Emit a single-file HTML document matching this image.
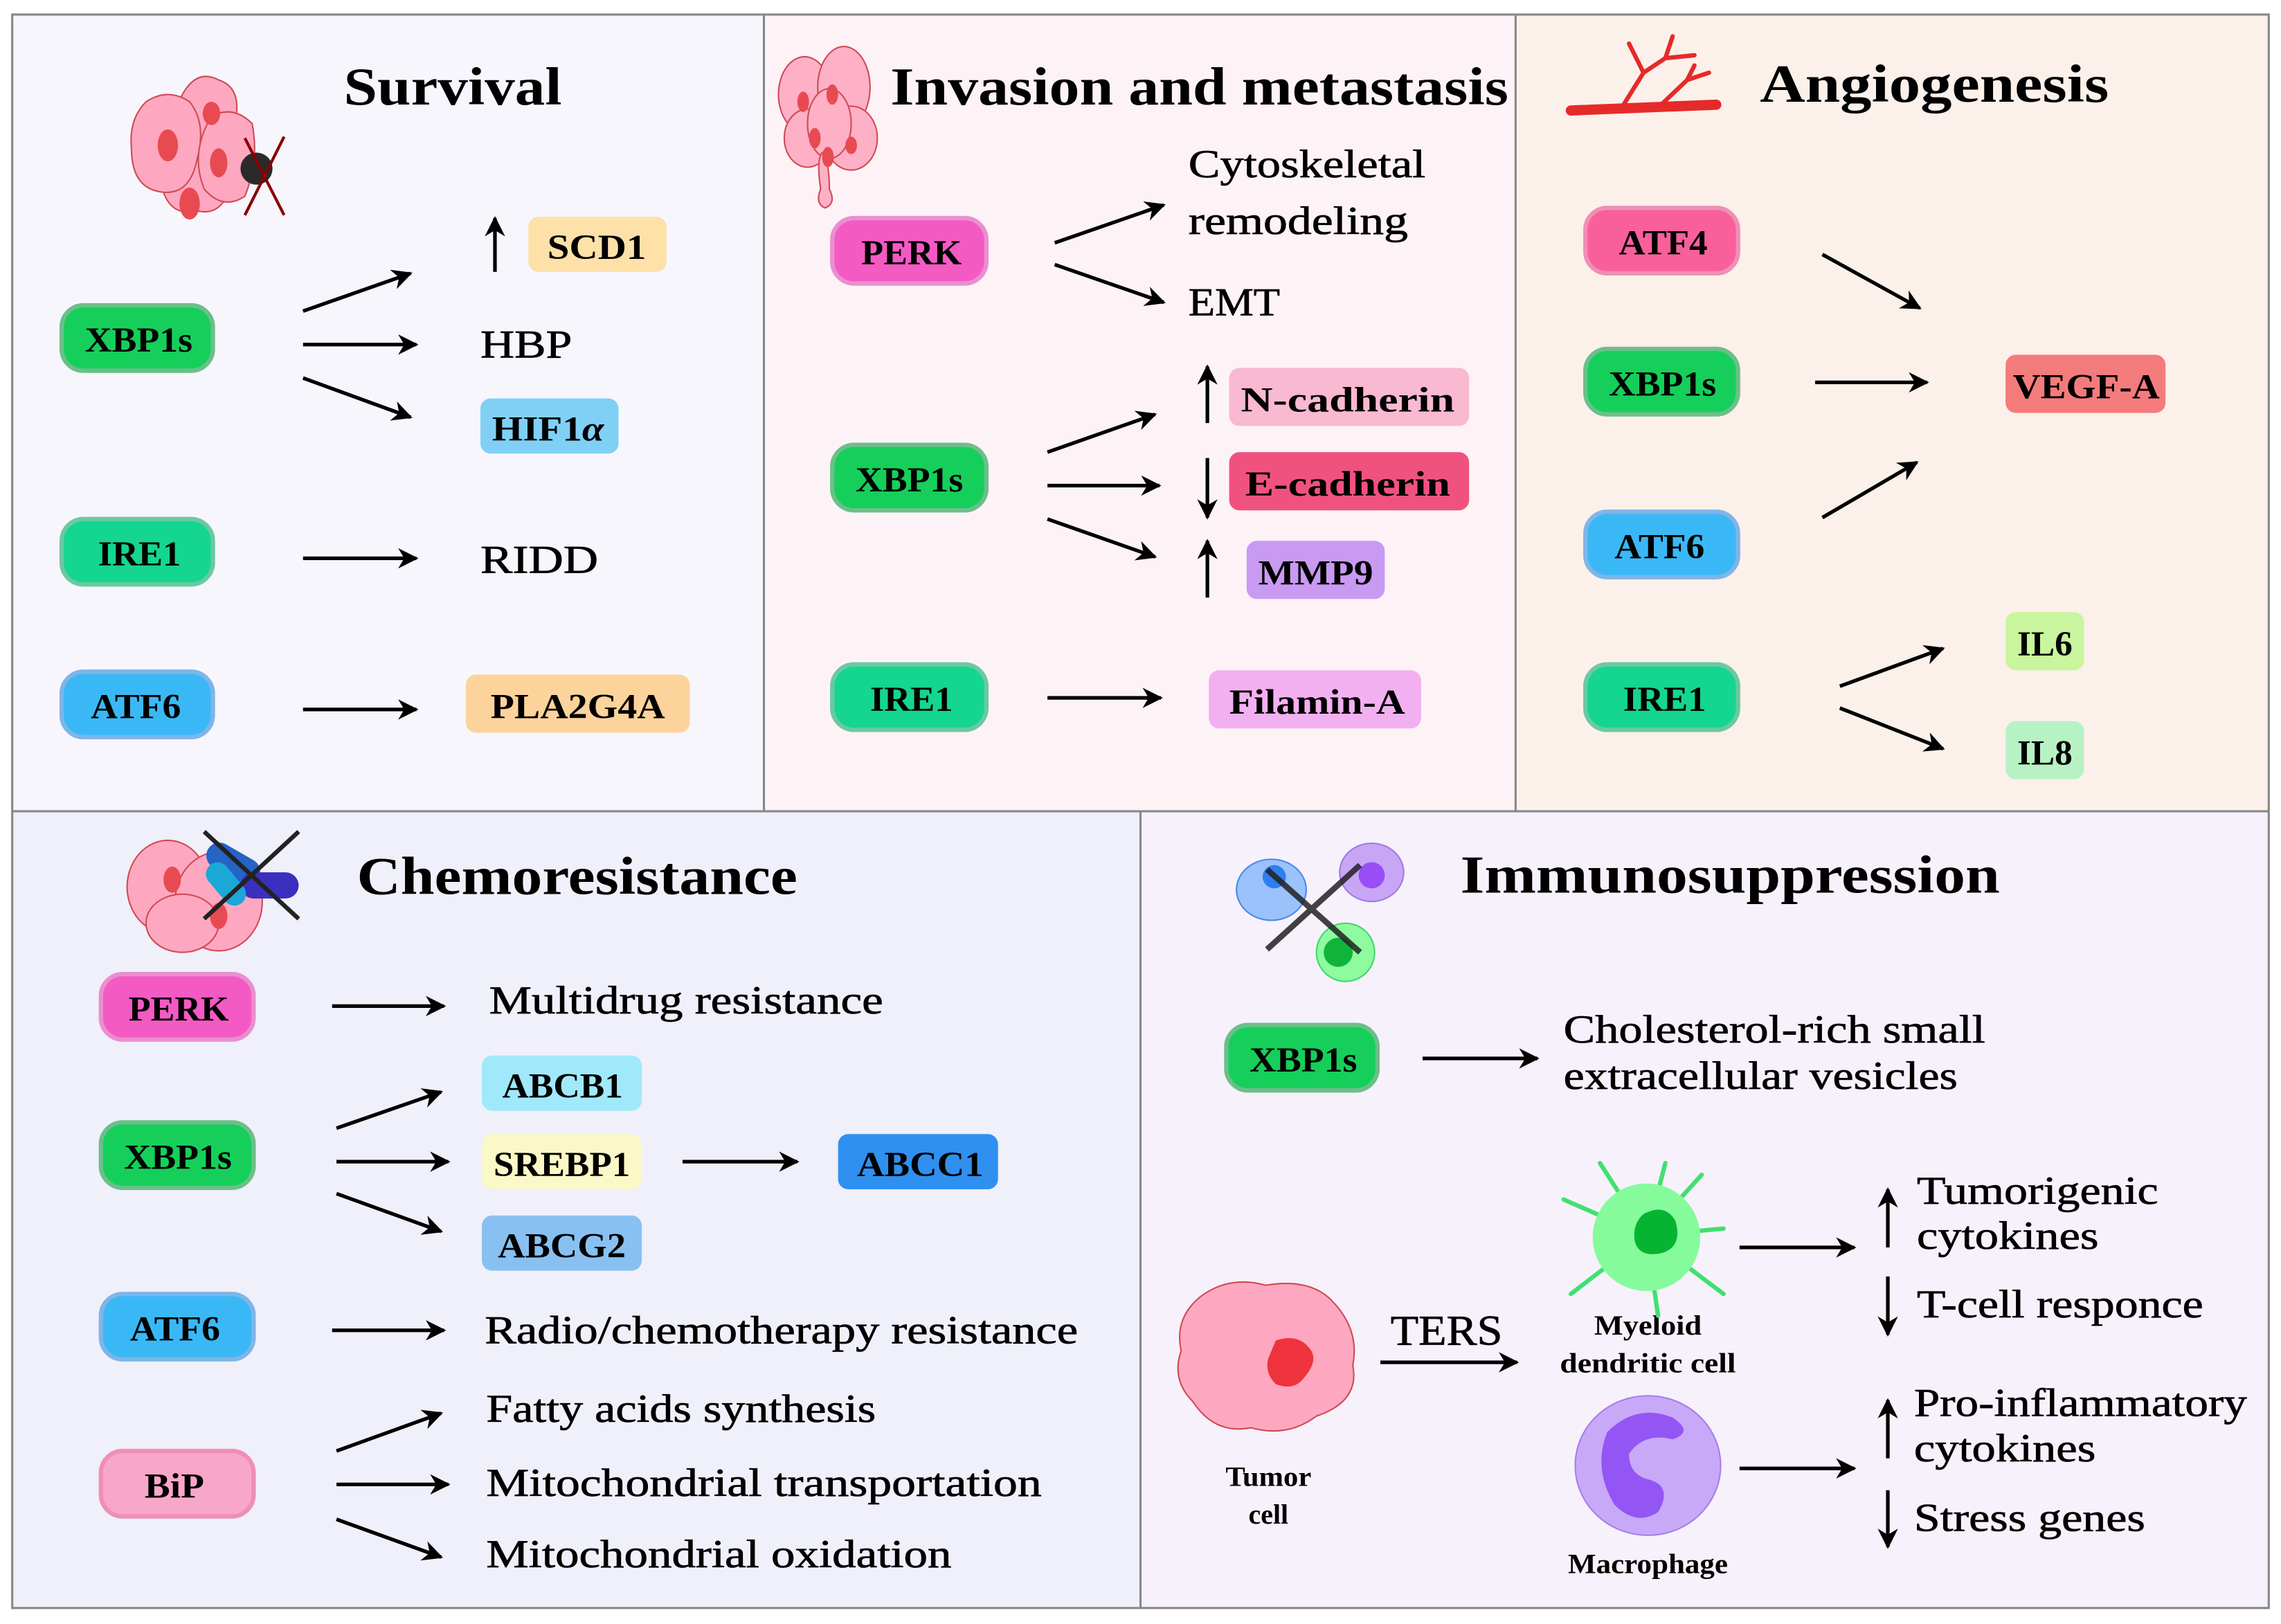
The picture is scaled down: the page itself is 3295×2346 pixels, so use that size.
<!DOCTYPE html>
<html><head><meta charset="utf-8"><style>
html,body{margin:0;padding:0;background:#fff}
svg{display:block}
text{font-family:"Liberation Serif",serif;fill:#000}
.t{font-size:37px;font-weight:bold}
.l{font-size:27px;stroke:#000;stroke-width:0.35}
.p{font-size:24px;font-weight:bold}
.s{font-size:19px;font-weight:bold}
</style></head><body>
<svg width="3295" height="2346" viewBox="0 0 1568 1117" xmlns="http://www.w3.org/2000/svg">
<defs>
<marker id="b" viewBox="0 0 10 10" refX="9" refY="5" markerWidth="14" markerHeight="14" orient="auto" markerUnits="userSpaceOnUse"><path d="M0,0 L10,5 L0,10 L3,5 z" fill="#000"/></marker>
</defs>
<rect x="8" y="10" width="517" height="548" fill="#f8f6fd"/>
<rect x="525" y="10" width="517" height="548" fill="#fdf3f7"/>
<rect x="1042" y="10" width="518" height="548" fill="#fcf0ea"/>
<rect x="8" y="558" width="776" height="548" fill="#eff0fa"/>
<rect x="784" y="558" width="776" height="548" fill="#f7f1fc"/>
<g stroke="#888" stroke-width="1.5" fill="none">
<rect x="8" y="10" width="1552" height="1096"/>
<line x1="8" y1="558" x2="1560" y2="558"/>
<line x1="525" y1="10" x2="525" y2="558"/>
<line x1="1042" y1="10" x2="1042" y2="558"/>
<line x1="784" y1="558" x2="784" y2="1106"/>
</g>
<g stroke="#000" stroke-width="2.5" fill="none" marker-end="url(#b)">
<line x1="208" y1="214" x2="282" y2="188"/><line x1="208" y1="237" x2="286" y2="237"/><line x1="208" y1="260" x2="282" y2="287"/>
<line x1="340" y1="187" x2="340" y2="150"/>
<line x1="208" y1="384" x2="286" y2="384"/><line x1="208" y1="488" x2="286" y2="488"/>
<line x1="725" y1="167" x2="800" y2="141"/><line x1="725" y1="182" x2="800" y2="208"/>
<line x1="720" y1="311" x2="794" y2="285"/><line x1="720" y1="334" x2="797" y2="334"/><line x1="720" y1="357" x2="794" y2="383"/>
<line x1="830" y1="291" x2="830" y2="252"/><line x1="830" y1="315" x2="830" y2="356"/><line x1="830" y1="411" x2="830" y2="372"/>
<line x1="720" y1="480" x2="798" y2="480"/>
<line x1="1253" y1="175" x2="1320" y2="212"/><line x1="1248" y1="263" x2="1325" y2="263"/><line x1="1253" y1="356" x2="1318" y2="318"/>
<line x1="1265" y1="472" x2="1336" y2="446"/><line x1="1265" y1="487" x2="1336" y2="515"/>
<line x1="228" y1="692" x2="305" y2="692"/>
<line x1="231" y1="776" x2="303" y2="751"/><line x1="231" y1="799" x2="308" y2="799"/><line x1="231" y1="821" x2="303" y2="847"/>
<line x1="469" y1="799" x2="548" y2="799"/>
<line x1="228" y1="915" x2="305" y2="915"/>
<line x1="231" y1="998" x2="303" y2="972"/><line x1="231" y1="1021" x2="308" y2="1021"/><line x1="231" y1="1045" x2="303" y2="1071"/>
<line x1="978" y1="728" x2="1057" y2="728"/>
<line x1="949" y1="937" x2="1043" y2="937"/>
<line x1="1196" y1="858" x2="1275" y2="858"/><line x1="1196" y1="1010" x2="1275" y2="1010"/>
<line x1="1298" y1="858" x2="1298" y2="818"/><line x1="1298" y1="878" x2="1298" y2="918"/>
<line x1="1298" y1="1003" x2="1298" y2="963"/><line x1="1298" y1="1025" x2="1298" y2="1064"/>
</g>

<g stroke-width="3">
<rect x="42" y="210" width="104" height="45" rx="15" fill="#15cf5a" stroke="#6bbf8a"/>
<rect x="42" y="357" width="104" height="45" rx="15" fill="#14d690" stroke="#6bc9a2"/>
<rect x="42" y="462" width="104" height="45" rx="15" fill="#3ab8f6" stroke="#7fb5e8"/>
<rect x="572" y="150" width="106" height="45" rx="15" fill="#f45ac4" stroke="#e98fd0"/>
<rect x="572" y="306" width="106" height="45" rx="15" fill="#15cf5a" stroke="#6bbf8a"/>
<rect x="572" y="457" width="106" height="45" rx="15" fill="#14d690" stroke="#6bc9a2"/>
<rect x="1090" y="143" width="105" height="45" rx="15" fill="#f85f9b" stroke="#ef8fb5"/>
<rect x="1090" y="240" width="105" height="45" rx="15" fill="#15cf5a" stroke="#6bbf8a"/>
<rect x="1090" y="352" width="105" height="45" rx="15" fill="#3ab8f6" stroke="#7fb5e8"/>
<rect x="1090" y="457" width="105" height="45" rx="15" fill="#14d690" stroke="#6bc9a2"/>
<rect x="69" y="670" width="105" height="45" rx="15" fill="#f45ac4" stroke="#e98fd0"/>
<rect x="69" y="772" width="105" height="45" rx="15" fill="#15cf5a" stroke="#6bbf8a"/>
<rect x="69" y="890" width="105" height="45" rx="15" fill="#3ab8f6" stroke="#7fb5e8"/>
<rect x="69" y="998" width="105" height="45" rx="15" fill="#f9a7c8" stroke="#ef8fb5"/>
<rect x="843" y="705" width="104" height="45" rx="15" fill="#15cf5a" stroke="#6bbf8a"/>
</g>
<rect x="363" y="149" width="95" height="38" rx="7" fill="#fde1a8"/>
<rect x="330" y="274" width="95" height="38" rx="7" fill="#80d0f6"/>
<rect x="320" y="464" width="154" height="40" rx="7" fill="#fdd39c"/>
<rect x="845" y="253" width="165" height="40" rx="7" fill="#f9b9d1"/>
<rect x="845" y="311" width="165" height="40" rx="7" fill="#f0527f"/>
<rect x="857" y="372" width="95" height="40" rx="7" fill="#c99af2"/>
<rect x="831" y="461" width="146" height="40" rx="7" fill="#f3b0f1"/>
<rect x="1379" y="244" width="110" height="40" rx="7" fill="#f47b7b"/>
<rect x="1379" y="421" width="54" height="40" rx="7" fill="#c9f59e"/>
<rect x="1379" y="496" width="54" height="40" rx="7" fill="#b7f2c5"/>
<rect x="331" y="726" width="110" height="38" rx="7" fill="#a0e9fb"/>
<rect x="331" y="780" width="110" height="38" rx="7" fill="#fbf8c8"/>
<rect x="576" y="780" width="110" height="38" rx="7" fill="#2f90f0"/>
<rect x="331" y="836" width="110" height="38" rx="7" fill="#88c1f1"/>

<g lengthAdjust="spacingAndGlyphs">
<text x="58" y="242" class="p" textLength="74" lengthAdjust="spacingAndGlyphs">XBP1s</text>
<text x="67" y="389" class="p" textLength="57" lengthAdjust="spacingAndGlyphs">IRE1</text>
<text x="62" y="494" class="p" textLength="62" lengthAdjust="spacingAndGlyphs">ATF6</text>
<text x="592" y="182" class="p" textLength="69" lengthAdjust="spacingAndGlyphs">PERK</text>
<text x="588" y="338" class="p" textLength="74" lengthAdjust="spacingAndGlyphs">XBP1s</text>
<text x="598" y="489" class="p" textLength="57" lengthAdjust="spacingAndGlyphs">IRE1</text>
<text x="1113" y="175" class="p" textLength="61" lengthAdjust="spacingAndGlyphs">ATF4</text>
<text x="1106" y="272" class="p" textLength="74" lengthAdjust="spacingAndGlyphs">XBP1s</text>
<text x="1110" y="384" class="p" textLength="62" lengthAdjust="spacingAndGlyphs">ATF6</text>
<text x="1116" y="489" class="p" textLength="57" lengthAdjust="spacingAndGlyphs">IRE1</text>
<text x="88" y="702" class="p" textLength="69" lengthAdjust="spacingAndGlyphs">PERK</text>
<text x="85" y="804" class="p" textLength="74" lengthAdjust="spacingAndGlyphs">XBP1s</text>
<text x="89" y="922" class="p" textLength="62" lengthAdjust="spacingAndGlyphs">ATF6</text>
<text x="99" y="1030" class="p" textLength="41" lengthAdjust="spacingAndGlyphs">BiP</text>
<text x="859" y="737" class="p" textLength="74" lengthAdjust="spacingAndGlyphs">XBP1s</text>
<text x="376" y="178" class="p" textLength="68" lengthAdjust="spacingAndGlyphs">SCD1</text>
<text x="338" y="303" class="p" textLength="77" lengthAdjust="spacingAndGlyphs">HIF1<tspan font-style="italic">α</tspan></text>
<text x="337" y="494" class="p" textLength="120" lengthAdjust="spacingAndGlyphs">PLA2G4A</text>
<text x="853" y="283" class="p" textLength="147" lengthAdjust="spacingAndGlyphs">N-cadherin</text>
<text x="856" y="341" class="p" textLength="141" lengthAdjust="spacingAndGlyphs">E-cadherin</text>
<text x="865" y="402" class="p" textLength="79" lengthAdjust="spacingAndGlyphs">MMP9</text>
<text x="845" y="491" class="p" textLength="121" lengthAdjust="spacingAndGlyphs">Filamin-A</text>
<text x="1384" y="274" class="p" textLength="101" lengthAdjust="spacingAndGlyphs">VEGF-A</text>
<text x="1387" y="451" class="p" textLength="38" lengthAdjust="spacingAndGlyphs">IL6</text>
<text x="1387" y="526" class="p" textLength="38" lengthAdjust="spacingAndGlyphs">IL8</text>
<text x="345" y="755" class="p" textLength="83" lengthAdjust="spacingAndGlyphs">ABCB1</text>
<text x="339" y="809" class="p" textLength="94" lengthAdjust="spacingAndGlyphs">SREBP1</text>
<text x="589" y="809" class="p" textLength="87" lengthAdjust="spacingAndGlyphs">ABCC1</text>
<text x="342" y="865" class="p" textLength="88" lengthAdjust="spacingAndGlyphs">ABCG2</text>
</g>

<text x="236" y="72" class="t" textLength="150" lengthAdjust="spacingAndGlyphs">Survival</text>
<text x="612" y="72" class="t" textLength="425" lengthAdjust="spacingAndGlyphs">Invasion and metastasis</text>
<text x="1210" y="70" class="t" textLength="240" lengthAdjust="spacingAndGlyphs">Angiogenesis</text>
<text x="245" y="615" class="t" textLength="303" lengthAdjust="spacingAndGlyphs">Chemoresistance</text>
<text x="1004" y="614" class="t" textLength="371" lengthAdjust="spacingAndGlyphs">Immunosuppression</text>

<text x="330" y="246" class="l" textLength="63" lengthAdjust="spacingAndGlyphs">HBP</text>
<text x="330" y="394" class="l" textLength="81" lengthAdjust="spacingAndGlyphs">RIDD</text>
<text x="817" y="122" class="l" textLength="163" lengthAdjust="spacingAndGlyphs">Cytoskeletal</text>
<text x="817" y="161" class="l" textLength="151" lengthAdjust="spacingAndGlyphs">remodeling</text>
<text x="817" y="217" class="l" textLength="63" lengthAdjust="spacingAndGlyphs">EMT</text>
<text x="336" y="697" class="l" textLength="271" lengthAdjust="spacingAndGlyphs">Multidrug resistance</text>
<text x="333" y="924" class="l" textLength="408" lengthAdjust="spacingAndGlyphs">Radio/chemotherapy resistance</text>
<text x="334" y="978" class="l" textLength="268" lengthAdjust="spacingAndGlyphs">Fatty acids synthesis</text>
<text x="334" y="1029" class="l" textLength="382" lengthAdjust="spacingAndGlyphs">Mitochondrial transportation</text>
<text x="334" y="1078" class="l" textLength="320" lengthAdjust="spacingAndGlyphs">Mitochondrial oxidation</text>
<text x="1075" y="717" class="l" textLength="290" lengthAdjust="spacingAndGlyphs">Cholesterol-rich small</text>
<text x="1075" y="749" class="l" textLength="271" lengthAdjust="spacingAndGlyphs">extracellular vesicles</text>
<text x="1318" y="828" class="l" textLength="166" lengthAdjust="spacingAndGlyphs">Tumorigenic</text>
<text x="1318" y="859" class="l" textLength="125" lengthAdjust="spacingAndGlyphs">cytokines</text>
<text x="1318" y="906" class="l" textLength="197" lengthAdjust="spacingAndGlyphs">T-cell responce</text>
<text x="1316" y="974" class="l" textLength="229" lengthAdjust="spacingAndGlyphs">Pro-inflammatory</text>
<text x="1316" y="1005" class="l" textLength="125" lengthAdjust="spacingAndGlyphs">cytokines</text>
<text x="1316" y="1053" class="l" textLength="159" lengthAdjust="spacingAndGlyphs">Stress genes</text>
<text x="956" y="925" class="l" style="font-size:29px" textLength="77" lengthAdjust="spacingAndGlyphs">TERS</text>

<g text-anchor="middle">
<text x="872" y="1022" class="s" textLength="59" lengthAdjust="spacingAndGlyphs">Tumor</text><text x="872" y="1048" class="s">cell</text>
<text x="1133" y="918" class="s" textLength="74" lengthAdjust="spacingAndGlyphs">Myeloid</text>
<text x="1133" y="944" class="s" textLength="121" lengthAdjust="spacingAndGlyphs">dendritic  cell</text>
<text x="1133" y="1082" class="s" textLength="110" lengthAdjust="spacingAndGlyphs">Macrophage</text>
</g>

<!-- survival icon -->
<g stroke="#d04a55" stroke-width="1" fill="#fda8c0">
<path d="M125,65 q10,-18 25,-10 q15,5 12,25 q8,20 -2,40 q-5,30 -25,25 q-20,5 -25,-20 q-8,-25 5,-40z"/>
<path d="M100,70 q15,-10 30,0 q12,15 5,40 q-5,25 -25,22 q-20,-3 -20,-30 q-2,-20 10,-32z"/>
<path d="M145,80 q15,-8 28,5 q5,25 -5,50 q-15,10 -28,-5 q-10,-25 5,-50z"/>
</g>
<g fill="#e84a52"><ellipse cx="115" cy="100" rx="7" ry="11"/><ellipse cx="150" cy="112" rx="6" ry="10"/><ellipse cx="130" cy="140" rx="7" ry="11"/><ellipse cx="145" cy="78" rx="6" ry="8"/></g>
<circle cx="176" cy="116" r="11" fill="#2a2a2a"/>
<g stroke="#8b0000" stroke-width="2"><line x1="168" y1="95" x2="195" y2="148"/><line x1="195" y1="94" x2="168" y2="148"/></g>
<!-- invasion icon -->
<g stroke="#d04a55" stroke-width="1" fill="#fdb0c6">
<ellipse cx="553" cy="65" rx="18" ry="26"/><ellipse cx="580" cy="60" rx="18" ry="28"/><ellipse cx="555" cy="95" rx="16" ry="20"/><ellipse cx="585" cy="95" rx="18" ry="22"/><ellipse cx="570" cy="85" rx="15" ry="24"/>
<path d="M565,105 q5,5 5,25 q5,10 -3,13 q-7,-3 -3,-13 q-3,-20 1,-25z"/>
</g>
<g fill="#e84a52"><ellipse cx="552" cy="70" rx="4" ry="7"/><ellipse cx="572" cy="65" rx="4" ry="7"/><ellipse cx="560" cy="95" rx="4" ry="7"/><ellipse cx="585" cy="100" rx="4" ry="6"/><ellipse cx="569" cy="108" rx="4" ry="7"/></g>
<!-- vessel icon -->
<g stroke="#e52a2a" stroke-linecap="round" fill="none">
<path d="M1080,76 L1180,72" stroke-width="7"/>
<path d="M1115,74 L1130,50 L1120,30 M1130,50 L1145,40 L1150,25 M1145,40 L1165,38 M1140,74 L1160,55 L1175,50 M1160,55 L1165,45" stroke-width="3"/>
</g>
<!-- chemo icon -->
<g stroke="#d04a55" stroke-width="1" fill="#fda8c0">
<ellipse cx="115" cy="610" rx="28" ry="32"/><ellipse cx="150" cy="620" rx="30" ry="34"/><ellipse cx="125" cy="635" rx="25" ry="20"/>
</g>
<g fill="#e84a52"><ellipse cx="118" cy="605" rx="6" ry="9"/><ellipse cx="150" cy="630" rx="6" ry="9"/></g>
<g><rect x="140" y="585" width="40" height="18" rx="9" fill="#2563c4" transform="rotate(30 160 594)"/><rect x="165" y="600" width="40" height="18" rx="9" fill="#3b2fbf"/><rect x="138" y="600" width="34" height="16" rx="8" fill="#1ba8d6" transform="rotate(50 155 608)"/></g>
<g stroke="#222" stroke-width="3"><line x1="140" y1="572" x2="205" y2="632"/><line x1="205" y1="572" x2="140" y2="632"/></g>
<!-- immuno small icon -->
<ellipse cx="874" cy="612" rx="24" ry="21" fill="#9bc2fb" stroke="#4a8ae8"/><circle cx="876" cy="603" r="8" fill="#2f7ef0"/>
<ellipse cx="943" cy="600" rx="22" ry="20" fill="#c8a6f5" stroke="#a07ae0"/><circle cx="943" cy="602" r="9" fill="#9a4ef5"/>
<circle cx="925" cy="655" r="20" fill="#8dfb9e" stroke="#40d870"/><circle cx="920" cy="655" r="10" fill="#10b43a"/>
<g stroke="#222" stroke-width="4" opacity="0.85"><line x1="871" y1="598" x2="935" y2="655"/><line x1="935" y1="595" x2="871" y2="653"/></g>
<!-- tumor cell -->
<path d="M825,892 q20,-15 45,-8 q30,-5 45,10 q20,20 15,45 q5,25 -25,35 q-20,15 -45,8 q-25,5 -40,-18 q-15,-15 -8,-35 q-5,-22 13,-37z" fill="#fda8c0" stroke="#d04a55"/>
<path d="M877,922 q15,-5 23,5 q7,8 -3,20 q-7,10 -20,5 q-8,-8 -5,-18z" fill="#ef333d"/>
<!-- dendritic -->
<g stroke="#40e070" stroke-width="3" stroke-linecap="round"><line x1="1132" y1="850" x2="1075" y2="825"/><line x1="1132" y1="850" x2="1100" y2="800"/><line x1="1132" y1="850" x2="1170" y2="808"/><line x1="1132" y1="850" x2="1185" y2="890"/><line x1="1132" y1="850" x2="1080" y2="890"/><line x1="1132" y1="850" x2="1185" y2="845"/><line x1="1132" y1="850" x2="1145" y2="800"/><line x1="1132" y1="850" x2="1140" y2="905"/></g>
<circle cx="1132" cy="851" r="37" fill="#86fb9c"/>
<path d="M1130,835 q15,-8 22,5 q5,18 -10,22 q-15,3 -18,-8 q-2,-12 6,-19z" fill="#06b432"/>
<!-- macrophage -->
<ellipse cx="1133" cy="1008" rx="50" ry="48" fill="#c8a9f7" stroke="#a57ee8"/>
<path d="M1105,985 q20,-20 45,-10 q15,10 0,15 q-20,-5 -30,10 q0,15 15,18 q15,5 5,22 q-15,10 -30,-5 q-15,-25 -5,-50z" fill="#9455f5"/>
</svg>
</body></html>
